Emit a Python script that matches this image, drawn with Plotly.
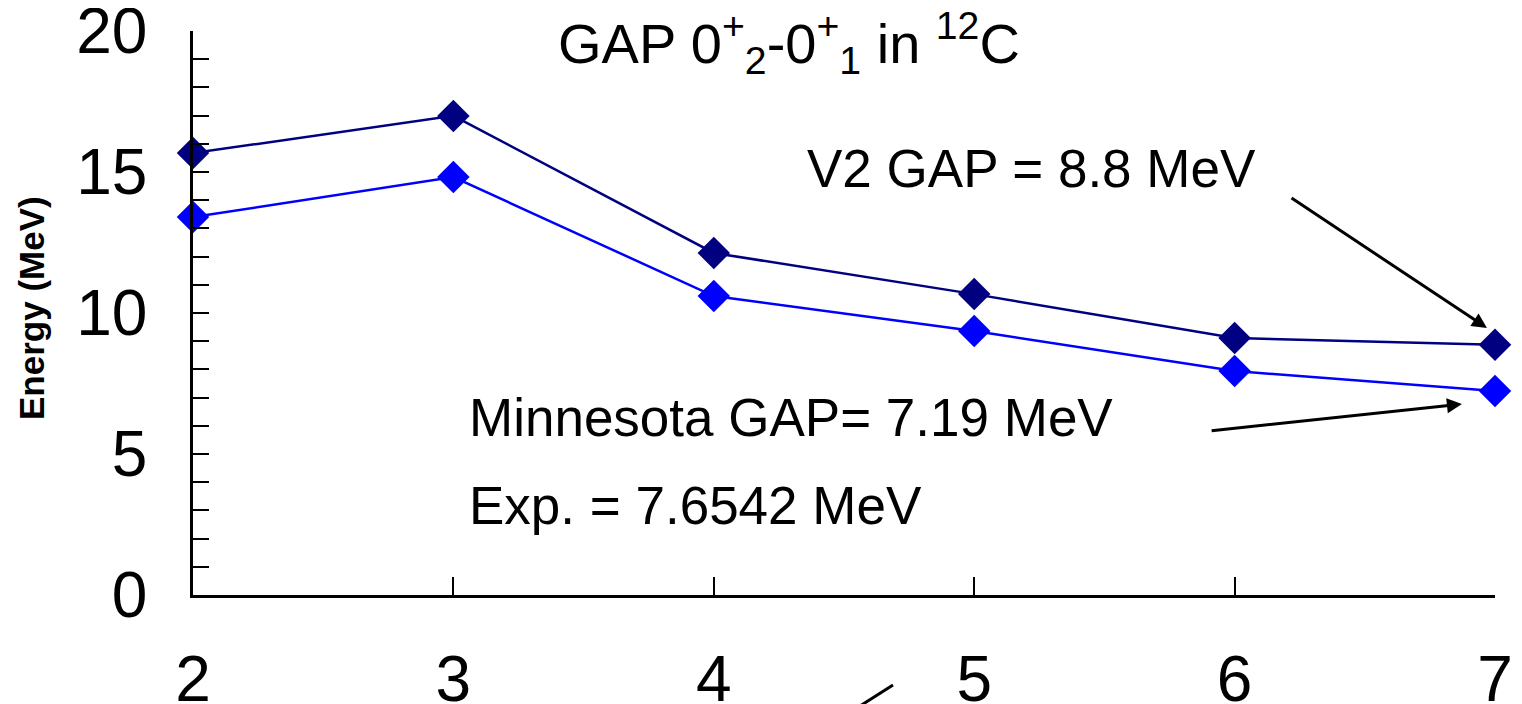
import plotly.graph_objects as go

x_vals = [2, 3, 4, 5, 6, 7]
v2_gap = [15.67, 16.99, 12.13, 10.67, 9.11, 8.87]
minnesota_gap = [13.4, 14.82, 10.6, 9.36, 7.94, 7.23]
x_ticks = [2, 3, 4, 5, 6, 7]
y_ticks = [0, 5, 10, 15, 20]

FONT = "Liberation Sans, Arial, sans-serif"

fig = go.Figure()
fig.add_trace(go.Scatter(x=x_vals, y=v2_gap, mode="lines+markers",
                         line=dict(color="#000080", width=2.5),
                         marker=dict(symbol="diamond", size=25, color="#000080"),
                         cliponaxis=False, name="V2"))
fig.add_trace(go.Scatter(x=x_vals, y=minnesota_gap, mode="lines+markers",
                         line=dict(color="#0000FF", width=2.5),
                         marker=dict(symbol="diamond", size=25, color="#0000FF"),
                         cliponaxis=False, name="Minnesota"))

fig.update_layout(
    width=1514, height=696,
    margin=dict(l=185, r=27, t=23, b=109),
    paper_bgcolor="white", plot_bgcolor="white",
    showlegend=False,
    font=dict(family=FONT, color="black"),
    xaxis=dict(range=[2, 7], tickvals=x_ticks, ticks="inside", ticklen=18, tickwidth=2,
               tickcolor="black", showline=True, linecolor="black", linewidth=2.5,
               showgrid=False, zeroline=False, tickfont=dict(size=64, family=FONT),
               ticklabelstandoff=26, automargin=False, ticklabeloverflow="allow"),
    yaxis=dict(range=[0, 20], tickvals=y_ticks, ticks="inside", ticklen=16, tickwidth=2,
               tickcolor="black", showline=True, linecolor="black", linewidth=2.5,
               showgrid=False, zeroline=False, tickfont=dict(size=64, family=FONT),
               ticklabelstandoff=30, automargin=False, ticklabeloverflow="allow",
               minor=dict(dtick=1, ticks="inside", ticklen=16, tickwidth=2, tickcolor="black")),
)

fig.add_annotation(xref="paper", yref="paper", x=(31 - 193) / 1302, y=(595 - 308) / 564,
                   xanchor="center", yanchor="middle", textangle=-90,
                   text="<b>Energy (MeV)</b>", showarrow=False,
                   font=dict(size=35, family=FONT))
fig.add_annotation(xref="paper", yref="paper", x=0.458, y=0.978, yanchor="middle",
                   xanchor="center",
                   text="GAP 0<sup>+</sup><sub>2</sub>-0<sup>+</sup><sub>1</sub> in <sup>12</sup>C",
                   showarrow=False, font=dict(size=56, family=FONT))
fig.add_annotation(xref="x", yref="y", x=4.35, y=15.14, text="V2 GAP = 8.8 MeV",
                   showarrow=False, xanchor="left", font=dict(size=53, family=FONT))
fig.add_annotation(xref="x", yref="y", x=3.052, y=6.28, text="Minnesota GAP= 7.19 MeV",
                   showarrow=False, xanchor="left", font=dict(size=53, family=FONT))
fig.add_annotation(xref="x", yref="y", x=3.052, y=3.19, text="Exp. = 7.6542 MeV",
                   showarrow=False, xanchor="left", font=dict(size=53, family=FONT))

# arrows
fig.add_annotation(xref="x", yref="y", x=6.969, y=9.47, ax=6.213, ay=14.11,
                   axref="x", ayref="y", showarrow=True, arrowhead=2, arrowsize=1,
                   arrowwidth=3, arrowcolor="black", text="")
fig.add_annotation(xref="x", yref="y", x=6.873, y=6.77, ax=5.906, ay=5.82,
                   axref="x", ayref="y", showarrow=True, arrowhead=2, arrowsize=1,
                   arrowwidth=3, arrowcolor="black", text="")
# stray line at bottom
fig.add_shape(type="line", xref="paper", yref="paper",
              x0=(860 - 193) / 1302, y0=-(706 - 595) / 564,
              x1=(893 - 193) / 1302, y1=-(685 - 595) / 564,
              line=dict(color="black", width=3))

fig.write_html("out.html")
